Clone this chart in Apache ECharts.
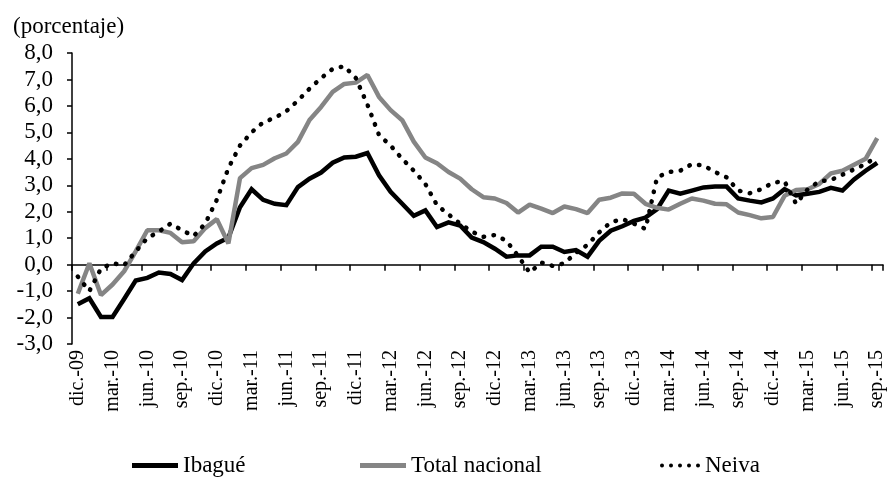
<!DOCTYPE html>
<html>
<head>
<meta charset="utf-8">
<script src="https://cdn.jsdelivr.net/npm/echarts@6/dist/echarts.min.js"></script>
<style>
html,body{margin:0;padding:0;background:#fff;}
#chart{width:892px;height:478px;}
</style>
</head>
<body>
<div id="chart"></div>
<script>
const categories = [
"dic.-09","ene.-10","feb.-10","mar.-10","abr.-10","may.-10","jun.-10","jul.-10","ago.-10","sep.-10","oct.-10","nov.-10",
"dic.-10","ene.-11","feb.-11","mar.-11","abr.-11","may.-11","jun.-11","jul.-11","ago.-11","sep.-11","oct.-11","nov.-11",
"dic.-11","ene.-12","feb.-12","mar.-12","abr.-12","may.-12","jun.-12","jul.-12","ago.-12","sep.-12","oct.-12","nov.-12",
"dic.-12","ene.-13","feb.-13","mar.-13","abr.-13","may.-13","jun.-13","jul.-13","ago.-13","sep.-13","oct.-13","nov.-13",
"dic.-13","ene.-14","feb.-14","mar.-14","abr.-14","may.-14","jun.-14","jul.-14","ago.-14","sep.-14","oct.-14","nov.-14",
"dic.-14","ene.-15","feb.-15","mar.-15","abr.-15","may.-15","jun.-15","jul.-15","ago.-15","sep.-15"
];

const ibague = [
-1.5,-1.27,-1.98,-1.98,-1.3,-0.6,-0.5,-0.3,-0.35,-0.58,
0.05,0.5,0.8,1.02,2.17,2.85,2.45,2.3,2.25,2.93,
3.25,3.48,3.85,4.05,4.08,4.22,3.38,2.75,2.3,1.85,
2.05,1.42,1.6,1.48,1.02,0.85,0.6,0.3,0.35,0.35,
0.68,0.68,0.48,0.55,0.3,0.9,1.28,1.45,1.65,1.78,
2.1,2.8,2.68,2.8,2.92,2.95,2.95,2.5,2.42,2.35,
2.5,2.85,2.62,2.68,2.75,2.9,2.8,3.22,3.55,3.85
];

const totalNacional = [
-1.1,0.05,-1.15,-0.75,-0.25,0.5,1.3,1.3,1.2,0.85,
0.88,1.38,1.72,0.8,3.27,3.65,3.77,4.02,4.2,4.64,
5.47,5.96,6.53,6.83,6.88,7.17,6.34,5.84,5.46,4.65,
4.05,3.83,3.5,3.25,2.85,2.55,2.5,2.33,1.97,2.27,
2.12,1.95,2.2,2.1,1.95,2.45,2.53,2.69,2.68,2.3,
2.15,2.08,2.3,2.5,2.42,2.3,2.28,1.97,1.87,1.75,
1.8,2.6,2.82,2.85,3.05,3.45,3.55,3.78,4.0,4.78
];

const neiva = [
-0.45,-1.0,-0.15,0.05,-0.02,0.5,1.0,1.25,1.55,1.3,
1.08,1.55,2.45,3.65,4.5,5.0,5.38,5.55,5.8,6.2,
6.65,7.05,7.4,7.5,7.05,6.05,4.9,4.5,4.0,3.55,
3.05,2.25,1.9,1.55,1.25,1.05,1.12,0.9,0.33,-0.3,
0.08,-0.05,0.05,0.45,0.75,1.22,1.6,1.72,1.55,1.35,
3.3,3.5,3.55,3.8,3.75,3.5,3.3,2.8,2.7,2.85,
3.1,3.15,2.3,2.85,3.15,3.2,3.4,3.6,3.8,4.1
];

const seriesNames = ["Ibagué","Total nacional","Neiva"];
const yTicks = {min:-3, max:8, step:1};
const unitLabel = "(porcentaje)";

const FONT = "'Liberation Serif','Times New Roman',serif";
const BLACK = '#000';
const GRAY = '#858585';
const DOTS_ICON = 'path://M0,2a2,2 0 1,0 4,0a2,2 0 1,0 -4,0M9,2a2,2 0 1,0 4,0a2,2 0 1,0 -4,0M18,2a2,2 0 1,0 4,0a2,2 0 1,0 -4,0M27,2a2,2 0 1,0 4,0a2,2 0 1,0 -4,0M36,2a2,2 0 1,0 4,0a2,2 0 1,0 -4,0';

const chart = echarts.init(document.getElementById('chart'));

function legendAt(name, left, icon, w, h, color){
  return {
    data:[{name:name, icon:icon, itemStyle:{color:color, borderWidth:0}}],
    left:left, top:454, itemWidth:w, itemHeight:h, itemGap:0,
    padding:0, selectedMode:false,
    textStyle:{fontFamily:FONT, fontSize:23, color:'#000', padding:[0,0,0,0]}
  };
}

chart.setOption({
  animation:false,
  backgroundColor:'#fff',
  title:{text:unitLabel, left:8, top:10,
    textStyle:{fontFamily:FONT, fontSize:23, fontWeight:'normal', color:'#000'}},
  legend:[
    legendAt(seriesNames[0],132,'rect',46,5,BLACK),
    legendAt(seriesNames[1],360,'rect',46,5,GRAY),
    legendAt(seriesNames[2],660,DOTS_ICON,40,4,BLACK)
  ],
  grid:{left:72, right:9, top:53, bottom:134, containLabel:false},
  xAxis:[
    {type:'category', data:categories, boundaryGap:true, position:'bottom',
      axisLine:{show:false, onZero:false}, axisTick:{show:false},
      axisLabel:{interval:2, rotate:90, margin:6, fontFamily:FONT, fontSize:20, color:'#000'}},
    {type:'category', data:categories, boundaryGap:true, position:'bottom',
      axisLine:{show:true, onZero:true, lineStyle:{color:'#000', width:1.5}},
      axisTick:{show:true, interval:2, length:6, inside:false, lineStyle:{color:'#000', width:1.5}},
      axisLabel:{show:false}}
  ],
  yAxis:{type:'value', min:yTicks.min, max:yTicks.max, interval:yTicks.step,
    axisLine:{show:true, lineStyle:{color:'#000', width:1.5}},
    axisTick:{show:true, length:5, lineStyle:{color:'#000', width:1.5}},
    splitLine:{show:false},
    axisLabel:{margin:19, fontFamily:FONT, fontSize:23, color:'#000',
      formatter:v=>v.toFixed(1).replace('.',',')}},
  series:[
    {name:seriesNames[0], type:'line', data:ibague, xAxisIndex:0, symbol:'none',
      color:BLACK, lineStyle:{color:BLACK, width:4.5, join:'miter'}},
    {name:seriesNames[1], type:'line', data:totalNacional, xAxisIndex:0, symbol:'none',
      color:GRAY, lineStyle:{color:GRAY, width:4.5}},
    {name:seriesNames[2], type:'line', data:neiva, xAxisIndex:0, symbol:'none',
      color:BLACK, lineStyle:{color:BLACK, width:4.5, type:[0.5,9.5], cap:'round'}}
  ]
});
</script>
</body>
</html>
